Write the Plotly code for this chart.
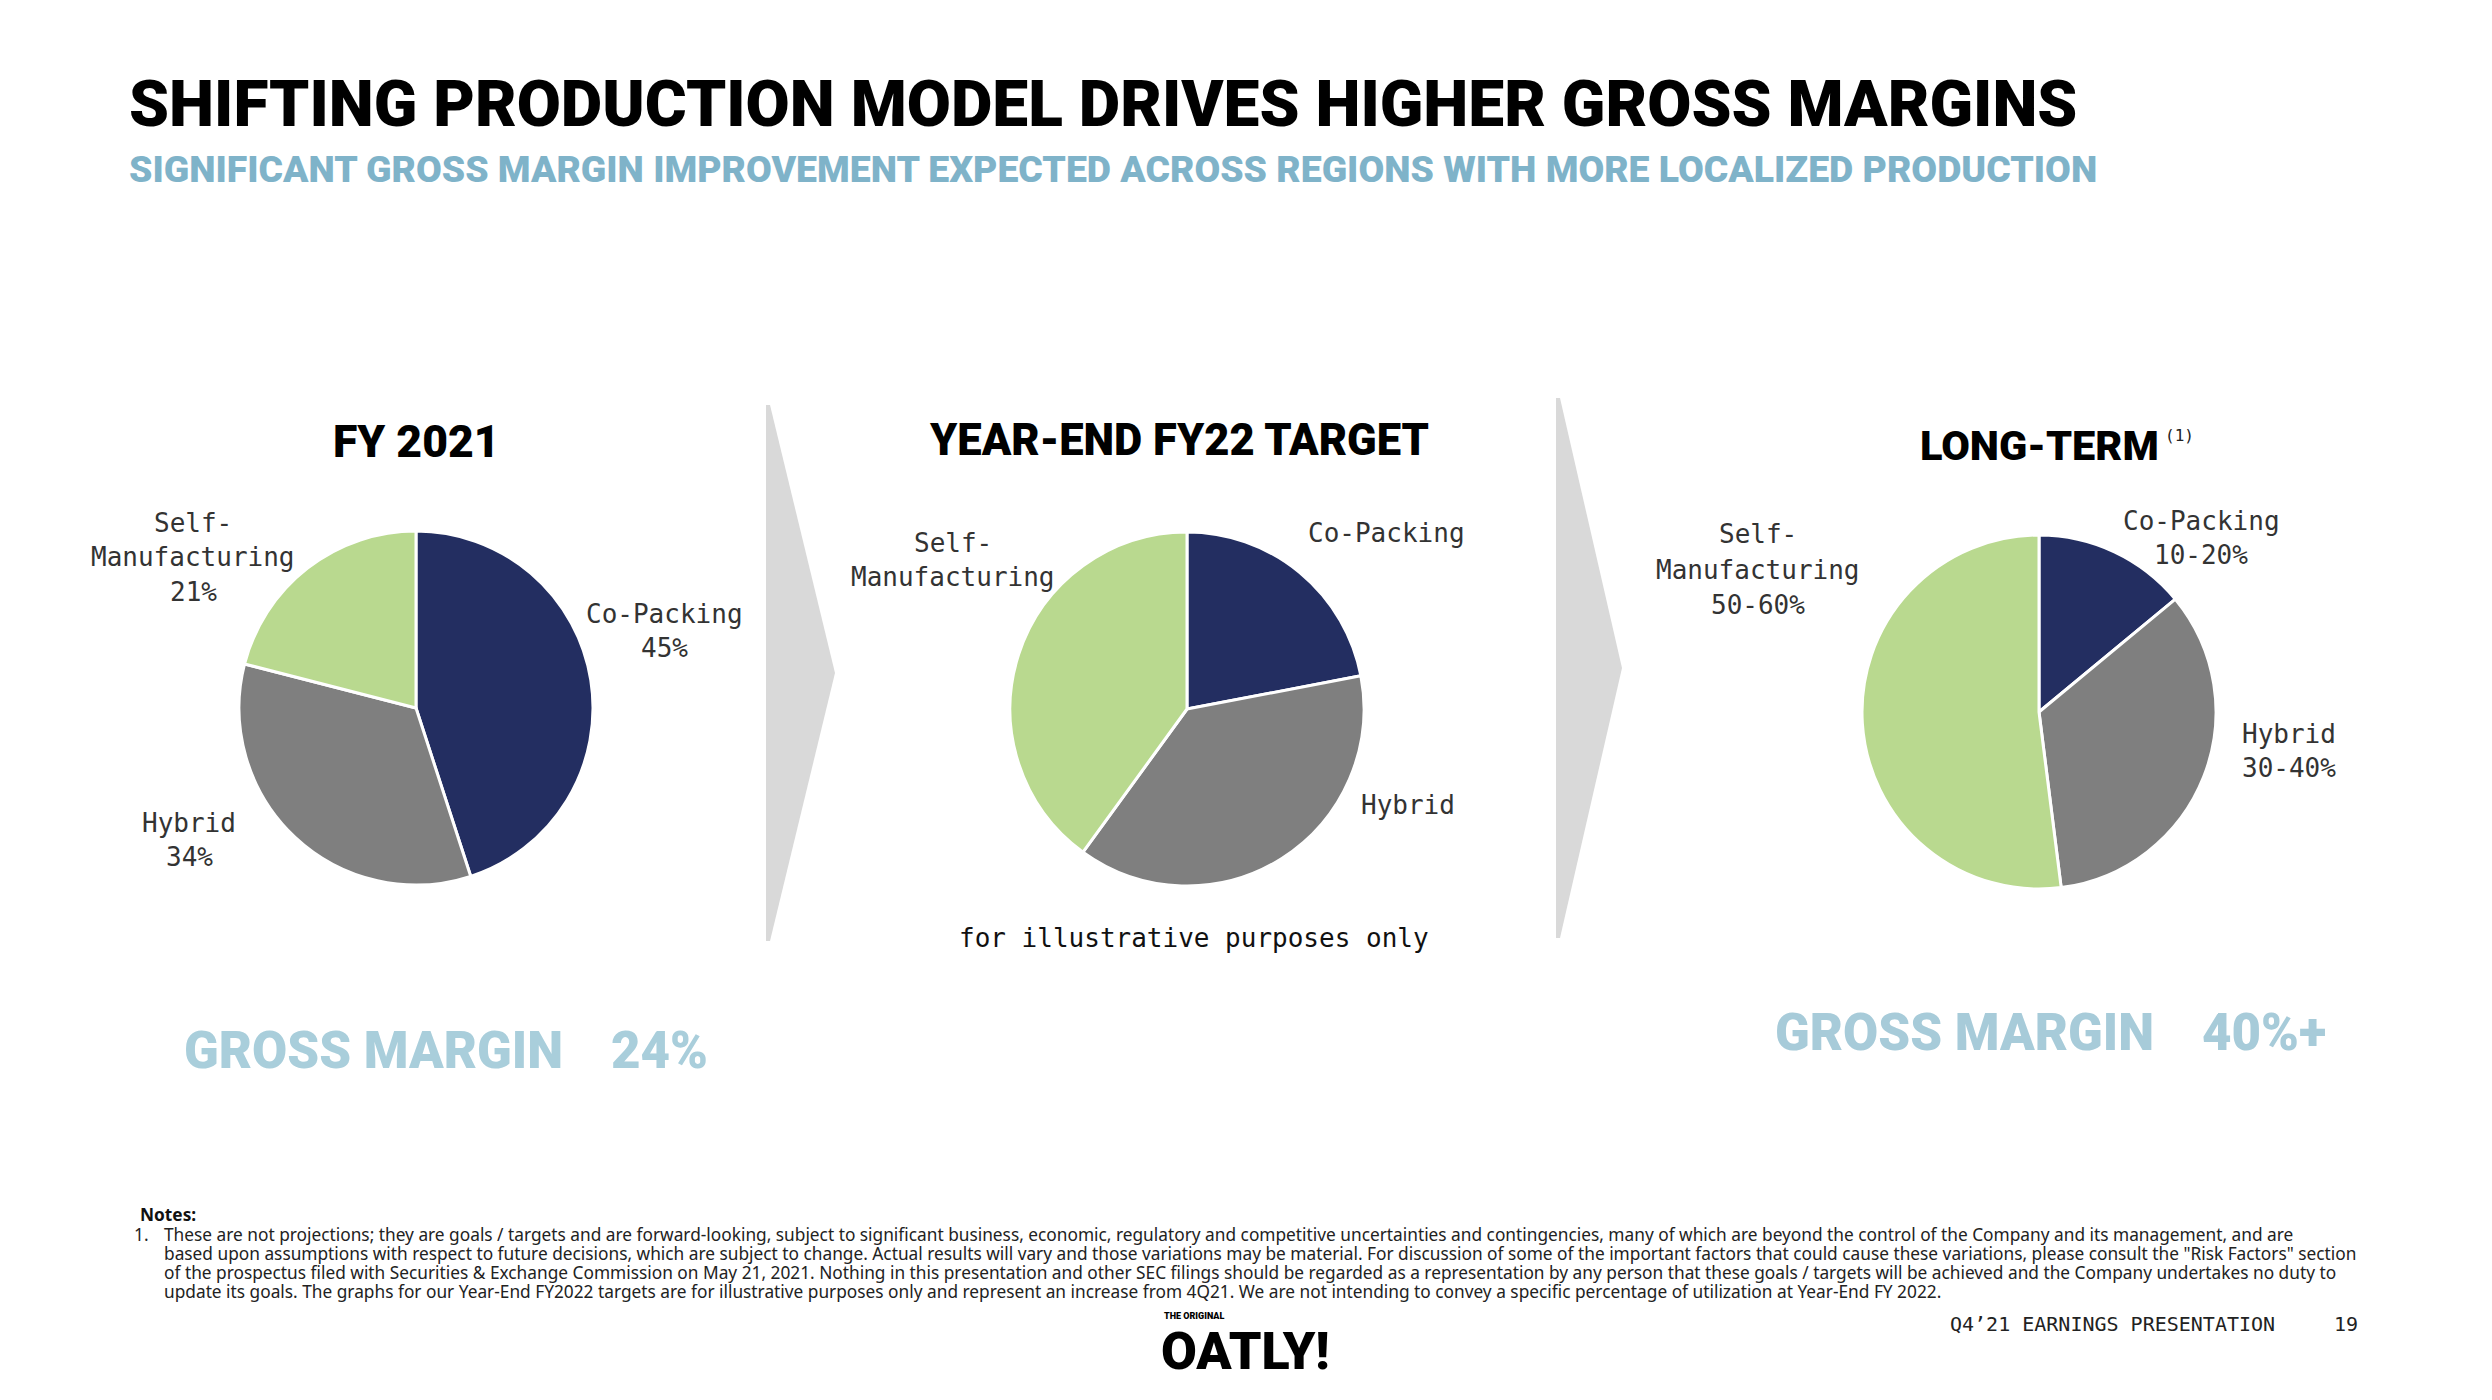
import plotly.graph_objects as go

W, H = 2492, 1400

# ---- data ----
segments = ["Co-Packing", "Hybrid", "Self-Manufacturing"]
fy2021_values = [45, 34, 21]
fy22_target_values = [22, 38, 40]      # illustrative only
long_term_values = [14, 34, 52]        # ranges 10-20 / 30-40 / 50-60
seg_colors = ["#232e61", "#7f7f7f", "#b9d98f"]

panel_titles = ["FY 2021", "YEAR-END FY22 TARGET", "LONG-TERM"]
gross_margins = ["24%", "40%+"]

TITLE_FONT = "Roboto, DejaVu Sans, sans-serif"
MONO = "DejaVu Sans Mono, Liberation Mono, monospace"
BODY = "Noto Sans, Lato, sans-serif"


def px(x):
    return x / W


def py(y):
    return 1 - y / H


fig = go.Figure()

pies = [
    (fy2021_values, 416, 708, 177),
    (fy22_target_values, 1187, 709, 177),
    (long_term_values, 2039, 712, 177),
]
for vals, cx, cy, r in pies:
    fig.add_trace(go.Pie(
        labels=segments, values=vals, sort=False, direction="clockwise",
        rotation=0, textinfo="none", hoverinfo="skip", showlegend=False,
        marker=dict(colors=seg_colors, line=dict(color="white", width=3)),
        domain=dict(x=[px(cx - r), px(cx + r)], y=[py(cy + r), py(cy - r)]),
    ))

ann = []


def text(x, y, s, size, color="#333333", family=MONO, anchor="center", weight="normal"):
    ann.append(dict(x=px(x), y=py(y), xref="paper", yref="paper", text=s,
                    showarrow=False, xanchor=anchor, yanchor="middle",
                    font=dict(size=size, color=color, family=family, weight=weight)))


# headline
text(127, 104, "SHIFTING PRODUCTION MODEL DRIVES HIGHER GROSS MARGINS", 64, "#000000", TITLE_FONT, "left", 900)
text(127, 169, "SIGNIFICANT GROSS MARGIN IMPROVEMENT EXPECTED ACROSS REGIONS WITH MORE LOCALIZED PRODUCTION",
     37.4, "#7fb3c9", TITLE_FONT, "left", 900)

# panel titles
text(416, 442, panel_titles[0], 44.5, "#000000", TITLE_FONT, "center", 900)
text(1179, 441, panel_titles[1], 43.5, "#000000", TITLE_FONT, "center", 900)
text(2039, 445, panel_titles[2], 41.5, "#000000", TITLE_FONT, "center", 900)
text(2179, 436, "(1)", 16, "#222222", MONO, "center")

# pie labels - FY2021
text(193, 523, "Self-", 26)
text(193, 557, "Manufacturing", 26)
text(193, 592, f"{fy2021_values[2]}%", 26)
text(664, 614, "Co-Packing", 26)
text(664, 648, f"{fy2021_values[0]}%", 26)
text(189, 823, "Hybrid", 26)
text(189, 857, f"{fy2021_values[1]}%", 26)

# pie labels - FY22 target
text(953, 543, "Self-", 26)
text(953, 577, "Manufacturing", 26)
text(1386, 533, "Co-Packing", 26)
text(1408, 805, "Hybrid", 26)
text(1194, 938, "for illustrative purposes only", 26, "#111111")

# pie labels - long term
text(1758, 534, "Self-", 26)
text(1758, 570, "Manufacturing", 26)
text(1758, 605, "50-60%", 26)
text(2201, 521, "Co-Packing", 26)
text(2201, 555, "10-20%", 26)
text(2289, 734, "Hybrid", 26)
text(2289, 768, "30-40%", 26)

# gross margins
text(182, 1050, "GROSS MARGIN", 51, "#a9cedb", TITLE_FONT, "left", 900)
text(609, 1050, gross_margins[0], 51, "#a9cedb", TITLE_FONT, "left", 900)
text(1773, 1032, "GROSS MARGIN", 51, "#a7cbd9", TITLE_FONT, "left", 900)
text(2200, 1032, gross_margins[1], 51, "#a7cbd9", TITLE_FONT, "left", 900)

# notes
notes = [
    "These are not projections; they are goals / targets and are forward-looking, subject to significant business, economic, regulatory and competitive uncertainties and contingencies, many of which are beyond the control of the Company and its management, and are",
    "based upon assumptions with respect to future decisions, which are subject to change. Actual results will vary and those variations may be material. For discussion of some of the important factors that could cause these variations, please consult the \"Risk Factors\" section",
    "of the prospectus filed with Securities &amp; Exchange Commission on May 21, 2021. Nothing in this presentation and other SEC filings should be regarded as a representation by any person that these goals / targets will be achieved and the Company undertakes no duty to",
    "update its goals. The graphs for our Year-End FY2022 targets are for illustrative purposes only and represent an increase from 4Q21. We are not intending to convey a specific percentage of utilization at Year-End FY 2022.",
]
text(138, 1214, "Notes:", 17.3, "#111111", BODY, "left", "bold")
text(132, 1234, "1.", 17.3, "#222222", BODY, "left")
for i, line in enumerate(notes):
    text(162, 1234 + i * 19, line, 17.3, "#222222", BODY, "left")

# footer
text(1948, 1324, "Q4\u201921 EARNINGS PRESENTATION", 20, "#222222", MONO, "left")
text(2346, 1324, "19", 20, "#222222", MONO, "center")
text(1162, 1316, "THE ORIGINAL", 9, "#000000", TITLE_FONT, "left", 900)
text(1245, 1351, "OATLY!", 52, "#000000", TITLE_FONT, "center", 900)

# chevrons
shapes = []
for x0, ytop, ybot, xtip in [(766, 405, 941, 835), (1556, 398, 938, 1622)]:
    ymid = (ytop + ybot) / 2
    path = (f"M {px(x0)},{py(ytop)} L {px(x0 + 4)},{py(ytop)} L {px(xtip)},{py(ymid)} "
            f"L {px(x0 + 4)},{py(ybot)} L {px(x0)},{py(ybot)} Z")
    shapes.append(dict(type="path", path=path, xref="paper", yref="paper",
                       fillcolor="#d9d9d9", line=dict(width=0), layer="below"))

fig.update_layout(
    width=W, height=H, margin=dict(l=0, r=0, t=0, b=0),
    paper_bgcolor="white", plot_bgcolor="white",
    annotations=ann, shapes=shapes, showlegend=False,
)

fig.write_html("out.html", config={"displayModeBar": False},
               post_script="document.body.style.margin='0';")
